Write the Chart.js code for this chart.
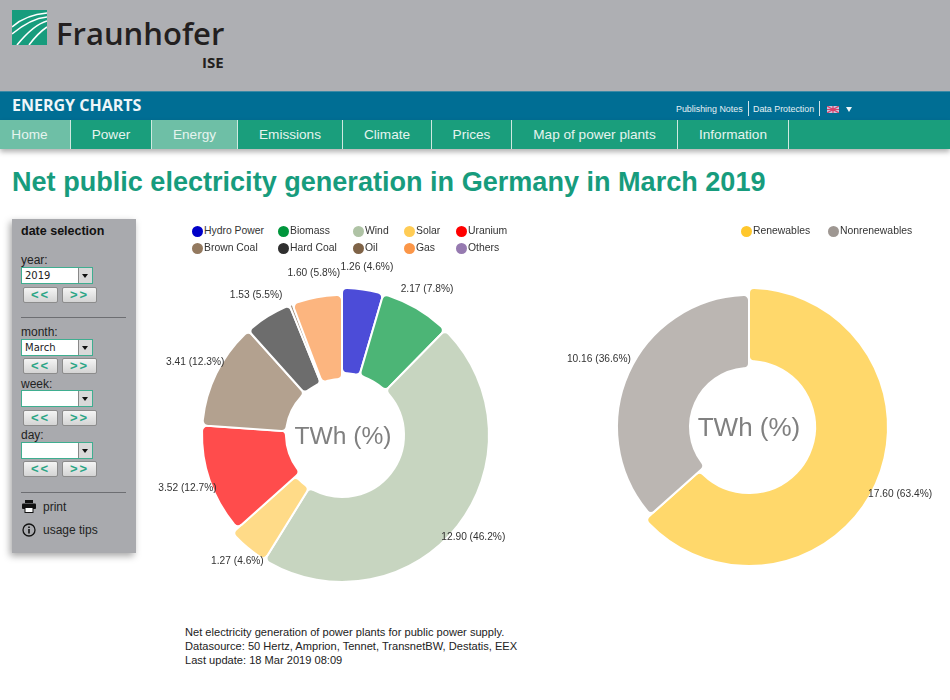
<!DOCTYPE html>
<html>
<head>
<meta charset="utf-8">
<title>Energy Charts</title>
<script src="https://cdn.jsdelivr.net/npm/chart.js@4/dist/chart.umd.min.js"></script>
<style>
  html, body { margin: 0; padding: 0; background: #fff; }
  body { width: 950px; height: 700px; overflow: hidden; position: relative; font-family: "Liberation Sans", Arial, sans-serif; color: #222; }
  .abs { position: absolute; white-space: nowrap; }

  #head { left: 0; top: 0; width: 950px; height: 91px; background: #aeafb3; }
  #brand { left: 0; top: 91px; width: 950px; height: 29px; background: #006e94; border-top: 1px solid #3b8aa6; box-sizing: border-box; }
  #nav { left: 0; top: 120px; width: 950px; height: 29px; background: #1a9e7c; box-shadow: 0 3px 5px rgba(0,0,0,.3); }
  .tab { position: absolute; top: 0; height: 29px; line-height: 30px; text-align: center; color: #e6f4ef; font-size: 13.6px; border-right: 1px solid #cfe9e0; box-sizing: border-box; }
  .tab.on { background: #6ebfa6; }

  #title { left: 12px; top: 165px; font-size: 27.07px; line-height: 34px; font-weight: bold; color: #179c7d; }

  #side { left: 12px; top: 219px; width: 124px; height: 334px; background: #a9aaae; box-shadow: -2px 3px 7px rgba(0,0,0,.35); }
  .lbl { font-size: 12px; line-height: 14px; color: #222; }
  .drop { position: absolute; left: 21px; width: 72px; height: 17px; box-sizing: border-box; background: #fff; border: 1px solid #3fae90; line-height: 15px; padding-left: 3px; color: #222; font-family: "DejaVu Sans", sans-serif; font-size: 10px; }
  .drop i { position: absolute; right: 0; top: 0; width: 14px; height: 15px; background: #d9d9d9; border-left: 1px solid #888; box-sizing: border-box; }
  .drop i:after { content: ""; position: absolute; left: 3px; top: 6px; border: 3.5px solid transparent; border-top: 4px solid #111; }
  .btn { position: absolute; width: 35px; height: 16px; box-sizing: border-box; border: 1px solid #8c8c8c; border-radius: 2px; background: linear-gradient(#f4f4f4, #d4d4d4); color: #2aa585; font-weight: bold; font-size: 13px; line-height: 13px; text-align: center; letter-spacing: 2px; }
  .rule { position: absolute; left: 21px; width: 105px; height: 1px; background: #6d6e72; }

  .chart { position: absolute; width: 380px; height: 380px; }
  .key { position: absolute; font-size: 10.4px; line-height: 12px; color: #333; white-space: nowrap; }
  .key b { position: absolute; left: -12px; top: 0.5px; width: 11px; height: 11px; border-radius: 50%; }

  #note { left: 185px; top: 625px; font-size: 11.1px; line-height: 14px; color: #222; }
</style>
</head>
<body>

<div class="abs" id="head"></div>
<svg class="abs" style="left:12px;top:10px" width="35" height="35" viewBox="0 0 35 35">
  <rect width="35" height="35" fill="#179c7d"/>
  <path d="M0 17 C10 8 22 4 35 3 M0 24 C12 14 24 8 35 7 M5 35 C14 24 24 14 35 11 M17 35 C23 27 29 21 35 17" stroke="#fff" stroke-width="1.6" fill="none"/>
</svg>
<div class="abs" style="left:56px;top:13px;font:600 31px/40px 'Open Sans',sans-serif;color:#231f20">Fraunhofer</div>
<div class="abs" style="left:202px;top:53px;font:700 15px/18px 'Open Sans',sans-serif;color:#231f20">ISE</div>

<div class="abs" id="brand">
  <div class="abs" style="left:12px;top:3px;font:700 16px/20px 'Open Sans',sans-serif;color:#eef6f9">ENERGY CHARTS</div>
  <div class="abs" style="left:676px;top:11px;font-size:8.9px;line-height:12px;color:#e6f1f5">Publishing Notes</div>
  <div class="abs" style="left:748px;top:9px;width:1px;height:15px;background:#cfe3ea"></div>
  <div class="abs" style="left:753px;top:11px;font-size:8.9px;line-height:12px;color:#e6f1f5">Data Protection</div>
  <div class="abs" style="left:819px;top:9px;width:1px;height:15px;background:#cfe3ea"></div>
  <svg class="abs" style="left:827px;top:14px" width="12" height="7" viewBox="0 0 12 7">
    <rect width="12" height="7" fill="#c8c4dc"/>
    <path d="M0 0L12 7M12 0L0 7M6 0V7M0 3.5H12" stroke="#d9426a" stroke-width="1.2"/>
  </svg>
  <div class="abs" style="left:846px;top:15px;border:3.5px solid transparent;border-top:5px solid #f0f6f8"></div>
</div>

<div class="abs" id="nav"></div>

<div class="abs" id="title">Net public electricity generation in Germany in March 2019</div>

<div class="abs" id="side"></div>
<div class="abs" style="left:21px;top:224px;font-size:12.5px;line-height:14px;font-weight:bold;color:#111">date selection</div>
<div class="rule" style="top:317px"></div>
<div class="rule" style="top:492px"></div>
<svg class="abs" style="left:22px;top:500px" width="14" height="13" viewBox="0 0 14 13">
  <rect x="3" y="0" width="8" height="3" fill="#111"/>
  <rect x="0" y="3.5" width="14" height="5.5" rx="1" fill="#111"/>
  <rect x="3" y="7.5" width="8" height="5" fill="#fff" stroke="#111"/>
</svg>
<div class="abs lbl" style="left:43px;top:500px">print</div>
<svg class="abs" style="left:22px;top:523px" width="14" height="14" viewBox="0 0 14 14">
  <circle cx="7" cy="7" r="6" fill="none" stroke="#111" stroke-width="1.3"/>
  <path d="M7 6V10.5M7 3.4V5" stroke="#111" stroke-width="1.6"/>
</svg>
<div class="abs lbl" style="left:43px;top:523px">usage tips</div>
<div id="controls"></div>

<canvas id="mixChart" class="chart" width="380" height="380" style="left:152px;top:245px"></canvas>
<canvas id="shareChart" class="chart" width="380" height="380" style="left:559px;top:237px"></canvas>
<div id="mixKeys"></div>
<div id="shareKeys"></div>

<div class="abs" id="note">Net electricity generation of power plants for public power supply.<br>Datasource: 50 Hertz, Amprion, Tennet, TransnetBW, Destatis, EEX<br>Last update: 18 Mar 2019 08:09</div>

<script>
// values (TWh and % of the month)
const sources = ['Hydro Power', 'Biomass', 'Wind', 'Solar', 'Uranium', 'Brown Coal', 'Hard Coal', 'Oil', 'Gas', 'Others'];
const sourceTwh = [1.26, 2.17, 12.90, 1.27, 3.52, 3.41, 1.53, 0.10, 1.60, 0.00];
const sourcePct = [4.6, 7.8, 46.2, 4.6, 12.7, 12.3, 5.5, 0.3, 5.8, 0.0];
const sourceRenewable = [true, true, true, true, false, false, false, false, false, false];
const sourceColors = ['#0000c8', '#00963c', '#afc3a5', '#ffcc55', '#ff0000', '#93795f', '#2f2f2f', '#7f6347', '#fb9648', '#967ab0'];

const groups = ['Renewables', 'Nonrenewables'];
const groupTwh = [17.60, 10.16];
const groupPct = [63.4, 36.6];
const groupRenewable = [true, false];
const groupColors = ['#ffc72c', '#9e9792'];

const navItems = ['Home', 'Power', 'Energy', 'Emissions', 'Climate', 'Prices', 'Map of power plants', 'Information'];
const navEdges = [0, 71, 152, 238, 343, 432, 512, 678, 789];

// the slices keep their look in the picture: base colour at 70%
function faded(hex) {
  const n = parseInt(hex.slice(1), 16);
  return 'rgba(' + (n >> 16) + ',' + ((n >> 8) & 255) + ',' + (n & 255) + ',0.7)';
}

// renewable and other slices sit on rings of a slightly different size
const ringPlugin = {
  id: 'ringPlugin',
  afterDatasetsUpdate(chart, args, opts) {
    chart.getDatasetMeta(0).data.forEach((arc, i) => {
      const ring = opts.isBig[i] ? opts.big : opts.small;
      arc.innerRadius = ring[0];
      arc.outerRadius = ring[1];
    });
  }
};

// value labels around the ring and the unit in the hole
const labelPlugin = {
  id: 'labelPlugin',
  afterDatasetsDraw(chart, args, opts) {
    const ctx = chart.ctx;
    const arcs = chart.getDatasetMeta(0).data;
    ctx.save();
    ctx.textAlign = 'center';
    ctx.textBaseline = 'middle';
    ctx.font = '10.2px "Liberation Sans"';
    ctx.fillStyle = '#333';
    arcs.forEach((arc, i) => {
      if (opts.pct[i] < 1) return;
      const mid = (arc.startAngle + arc.endAngle) / 2;
      const sin = Math.sin(mid);
      const x = arc.x + Math.cos(mid) * 165 + opts.shiftX;
      // the big ring reaches further up, so its upper labels are lifted
      const y = arc.y + sin * 165 + (opts.isBig[i] && sin < 0 ? -4 : 0);
      ctx.fillText(chart.data.datasets[0].data[i].toFixed(2) + ' (' + opts.pct[i].toFixed(1) + '%)', x, y);
    });
    ctx.font = opts.unitSize + 'px "Liberation Sans"';
    ctx.fillStyle = '#808080';
    ctx.fillText('TWh (%)', arcs[0].x + opts.shiftX - 0.5, arcs[0].y + 2);
    ctx.restore();
  }
};

function makeDonut(id, labels, values, pct, isBig, colors, big, small, unitSize, shiftX) {
  return new Chart(document.getElementById(id), {
    type: 'doughnut',
    data: {
      labels: labels,
      datasets: [{
        data: values,
        backgroundColor: colors.map(faded),
        borderColor: '#fff',
        borderWidth: 2,
        borderRadius: 5,
        radius: big[1],
        cutout: big[0]
      }]
    },
    options: {
      responsive: false,
      animation: false,
      plugins: {
        legend: { display: false },
        tooltip: { enabled: false },
        ringPlugin: { isBig: isBig, big: big, small: small },
        labelPlugin: { pct: pct, isBig: isBig, unitSize: unitSize, shiftX: shiftX }
      }
    },
    plugins: [ringPlugin, labelPlugin]
  });
}

makeDonut('mixChart', sources, sourceTwh, sourcePct, sourceRenewable, sourceColors, [62, 147], [56, 140], 24.6, 1.5);
makeDonut('shareChart', groups, groupTwh, groupPct, groupRenewable, groupColors, [66, 139], [59, 132], 26, 0.5);

// legends
function addKey(parent, text, color, x, y) {
  const el = document.createElement('div');
  el.className = 'key';
  el.style.left = x + 'px';
  el.style.top = y + 'px';
  el.innerHTML = '<b style="background:' + color + '"></b>' + text;
  document.getElementById(parent).appendChild(el);
}
const keyColumns = [204, 290, 365, 416, 468];
sources.forEach((name, i) => {
  addKey('mixKeys', name, sourceColors[i], keyColumns[i % 5], i < 5 ? 225 : 242);
});
addKey('shareKeys', groups[0], groupColors[0], 753, 225);
addKey('shareKeys', groups[1], groupColors[1], 840, 225);

// navigation bar
navItems.forEach((name, i) => {
  const el = document.createElement('div');
  el.className = 'tab' + (name === 'Energy' ? ' on' : '');
  el.style.left = navEdges[i] + 'px';
  el.style.width = (navEdges[i + 1] - navEdges[i]) + 'px';
  if (name === 'Home') { el.style.background = '#6ebfa6'; el.style.paddingRight = '11px'; }
  el.textContent = name;
  document.getElementById('nav').appendChild(el);
});

// date selection controls
const controls = document.getElementById('controls');
function addControl(label, value, labelTop, dropTop, btnTop) {
  controls.insertAdjacentHTML('beforeend',
    '<div class="abs lbl" style="left:21px;top:' + labelTop + 'px">' + label + '</div>' +
    '<div class="drop" style="top:' + dropTop + 'px">' + value + '<i></i></div>' +
    '<div class="btn" style="left:23px;top:' + btnTop + 'px">&lt;&lt;</div>' +
    '<div class="btn" style="left:62px;top:' + btnTop + 'px">&gt;&gt;</div>');
}
addControl('year:', '2019', 253, 267, 287);
addControl('month:', 'March', 325, 339, 358);
addControl('week:', '', 377, 390, 410);
addControl('day:', '', 428, 442, 461);
</script>
</body>
</html>
